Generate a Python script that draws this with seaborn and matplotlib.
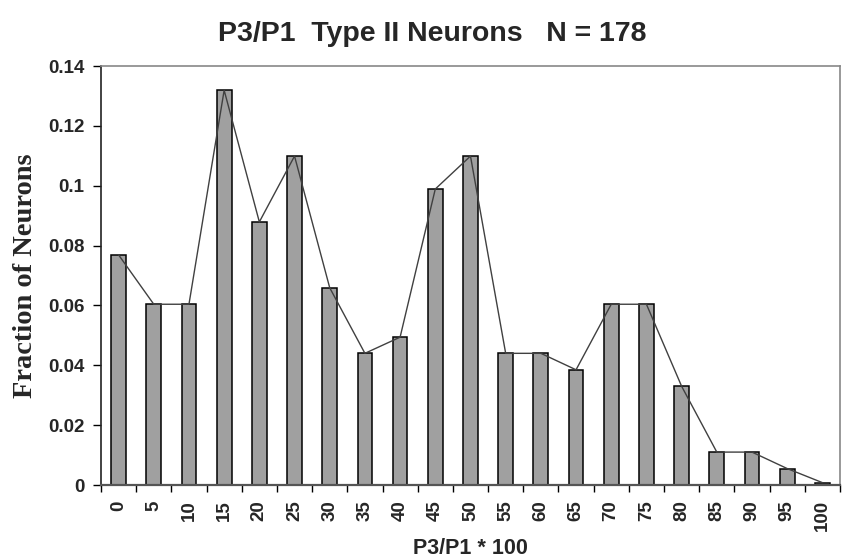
import numpy as np
import pandas as pd
import matplotlib
matplotlib.use("Agg")
import matplotlib.pyplot as plt
import seaborn as sns

# P3/P1 ratio bins (x100) and fraction of type II neurons in each bin
bins = ["0", "5", "10", "15", "20", "25", "30", "35", "40", "45", "50",
        "55", "60", "65", "70", "75", "80", "85", "90", "95", "100"]
fractions = [0.0769, 0.0604, 0.0604, 0.1319, 0.0879, 0.1099, 0.0659, 0.0440,
             0.0494, 0.0989, 0.1099, 0.0440, 0.0440, 0.0385, 0.0604, 0.0604,
             0.0330, 0.0110, 0.0110, 0.0055, 0.0008]
y_ticks = [0, 0.02, 0.04, 0.06, 0.08, 0.1, 0.12, 0.14]
y_tick_labels = ["0", "0.02", "0.04", "0.06", "0.08", "0.1", "0.12", "0.14"]

df = pd.DataFrame({"bin": bins, "fraction": fractions})

sns.set_style("white")
plt.rcParams["font.family"] = ["Liberation Sans", "DejaVu Sans"]

fig = plt.figure(figsize=(8.43, 5.58), dpi=100)
ax = fig.add_axes([0.1198, 0.1308, 0.8766, 0.7509])

sns.barplot(data=df, x="bin", y="fraction", order=bins, color="#a0a0a0",
            saturation=1, width=0.42, edgecolor="black", linewidth=1.1,
            ax=ax, zorder=2)

# polygon joining the tops of the bars
pos = np.arange(len(bins))
sns.lineplot(x=pos, y=fractions, color="#404040", linewidth=1.0, ax=ax,
             zorder=3)

ax.set_xlim(-0.5, len(bins) - 0.5)
ax.set_ylim(0, 0.14)
ax.set_yticks(y_ticks)
ax.set_yticklabels(y_tick_labels, fontsize=13.5, fontweight="bold")

# category labels centred, tick marks between the categories
ax.set_xticks(pos)
ax.set_xticklabels(bins, rotation=90, fontsize=13.5, fontweight="bold")
ax.set_xticks(np.arange(-0.5, len(bins)), minor=True)
ax.tick_params(axis="x", which="major", length=0, pad=11)
ax.tick_params(axis="x", which="minor", length=5, width=1, color="black",
               direction="out", bottom=True)
ax.tick_params(axis="y", which="major", length=6, width=1, color="black",
               direction="out", left=True, pad=6)

for side in ["top", "right"]:
    ax.spines[side].set_color("#888888")
    ax.spines[side].set_linewidth(1.2)
ax.spines["left"].set_color("#222222")
ax.spines["left"].set_linewidth(1.2)
ax.spines["bottom"].set_color("#555555")
ax.spines["bottom"].set_linewidth(1.6)

ax.set_xlabel("P3/P1 * 100", fontsize=15.5, fontweight="bold", labelpad=5)
ax.set_ylabel("Fraction of Neurons", fontsize=20.5, fontweight="bold",
              family=["Liberation Serif", "DejaVu Serif"], labelpad=7)
fig.suptitle("P3/P1  Type II Neurons   N = 178", fontsize=20.5,
             fontweight="bold", x=0.513, y=0.962)

fig.savefig("out.png", dpi=100)
